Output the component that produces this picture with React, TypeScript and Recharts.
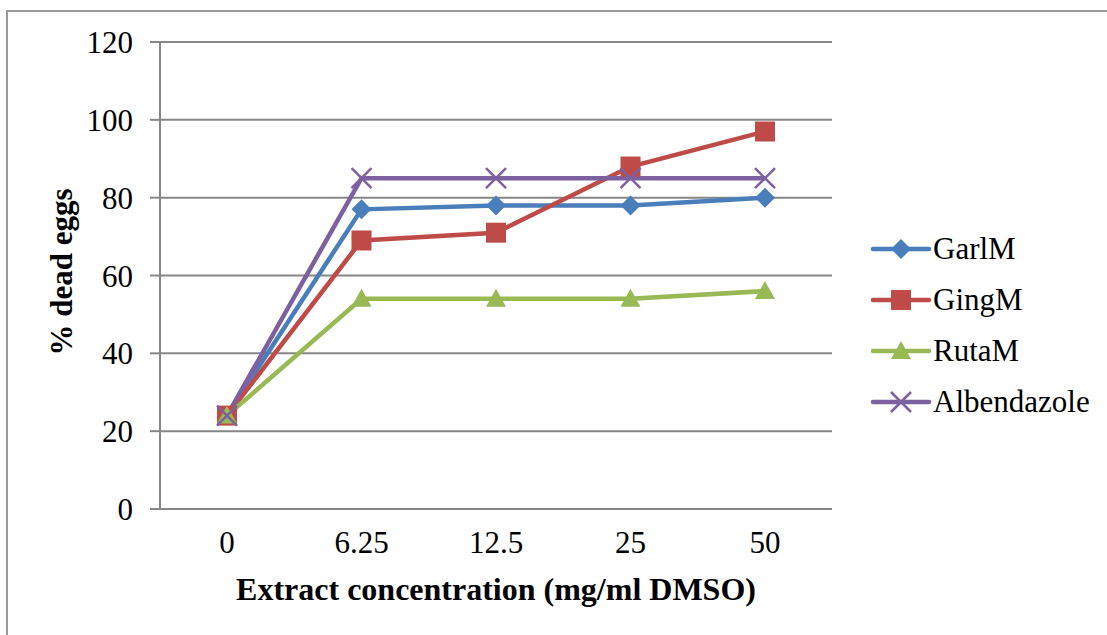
import React from 'react';
import { LineChart, Line, XAxis, YAxis, CartesianGrid } from 'recharts';

const concentrations = ['0', '6.25', '12.5', '25', '50'];
const garlM = [24, 77, 78, 78, 80];
const gingM = [24, 69, 71, 88, 97];
const rutaM = [24, 54, 54, 54, 56];
const albendazole = [24, 85, 85, 85, 85];
const yTicks = [0, 20, 40, 60, 80, 100, 120];

const data = concentrations.map((c, i) => ({
  conc: c,
  GarlM: garlM[i],
  GingM: gingM[i],
  RutaM: rutaM[i],
  Albendazole: albendazole[i],
}));

const FONT = '"Liberation Serif", "Times New Roman", serif';
const GRID = '#868686';

const colors: Record<string, string> = {
  GarlM: '#4A7EBB',
  GingM: '#BE4B48',
  RutaM: '#98B954',
  Albendazole: '#7D60A0',
};

// excel-style markers, ~20px
const Marker = ({ name, cx, cy }: { name: string; cx: number; cy: number }) => {
  const c = colors[name];
  if (name === 'GarlM') {
    return <polygon points={`${cx},${cy - 10} ${cx + 10},${cy} ${cx},${cy + 10} ${cx - 10},${cy}`} fill={c} />;
  }
  if (name === 'GingM') {
    return <rect x={cx - 10} y={cy - 10} width={20} height={20} fill={c} />;
  }
  if (name === 'RutaM') {
    return <polygon points={`${cx},${cy - 10} ${cx + 10},${cy + 8} ${cx - 10},${cy + 8}`} fill={c} />;
  }
  return (
    <g stroke={c} strokeWidth={2.5}>
      <line x1={cx - 10} y1={cy - 10} x2={cx + 10} y2={cy + 10} />
      <line x1={cx - 10} y1={cy + 10} x2={cx + 10} y2={cy - 10} />
    </g>
  );
};

const makeDot = (name: string) => (props: any) => {
  const { cx, cy, index } = props;
  if (cx == null || cy == null) return <g key={index} />;
  return <Marker key={index} name={name} cx={cx} cy={cy} />;
};

const series = ['GarlM', 'GingM', 'RutaM', 'Albendazole'];

const LegendBox = () => (
  <div style={{ position: 'absolute', left: 870, top: 223, fontFamily: FONT, fontSize: 31, color: '#000' }}>
    {series.map((s) => (
      <div key={s} style={{ display: 'flex', alignItems: 'center', height: 51 }}>
        <svg width={62} height={26} style={{ marginRight: 1 }}>
          <line x1={3} y1={13} x2={59} y2={13} stroke={colors[s]} strokeWidth={4.5} strokeLinecap="round" />
          <Marker name={s} cx={31} cy={13} />
        </svg>
        <span>{s}</span>
      </div>
    ))}
  </div>
);

const App = () => {
  return (
    <div style={{ position: 'absolute', left: 0, top: 0, width: 1107, height: 635, background: '#fff', overflow: 'hidden' }}>
      <div
        style={{
          position: 'absolute',
          left: 6,
          top: 10,
          width: 1200,
          height: 800,
          borderLeft: '2px solid #9a9a9a',
          borderTop: '2px solid #9a9a9a',
        }}
      />
      <LineChart
        width={1107}
        height={635}
        data={data}
        margin={{ top: 42, right: 275, left: 0, bottom: 0 }}
        style={{ position: 'absolute', left: 0, top: 0 }}
      >
        <CartesianGrid vertical={false} stroke={GRID} strokeWidth={2} />
        <XAxis
          dataKey="conc"
          height={126}
          padding={{ left: 67, right: 67 }}
          axisLine={{ stroke: GRID, strokeWidth: 2 }}
          tickLine={false}
          tickSize={0}
          tickMargin={22}
          tick={{ fontFamily: FONT, fontSize: 31, fill: '#000' }}
        />
        <YAxis
          width={160}
          domain={[0, 120]}
          ticks={yTicks}
          interval={0}
          axisLine={{ stroke: GRID, strokeWidth: 2 }}
          tickLine={{ stroke: GRID, strokeWidth: 2 }}
          tickSize={10}
          tickMargin={17}
          tick={{ fontFamily: FONT, fontSize: 31, fill: '#000' }}
        />
        {series.map((s) => (
          <Line
            key={s}
            type="linear"
            dataKey={s}
            stroke={colors[s]}
            strokeWidth={4.5}
            dot={makeDot(s)}
            activeDot={false}
            isAnimationActive={false}
          />
        ))}
      </LineChart>
      <LegendBox />
      <div
        style={{
          position: 'absolute',
          left: 496,
          top: 589,
          transform: 'translate(-50%, -50%)',
          whiteSpace: 'nowrap',
          fontFamily: FONT,
          fontWeight: 'bold',
          fontSize: 32,
        }}
      >
        Extract concentration (mg/ml DMSO)
      </div>
      <div
        style={{
          position: 'absolute',
          left: 62,
          top: 272,
          transform: 'translate(-50%, -50%) rotate(-90deg)',
          whiteSpace: 'nowrap',
          fontFamily: FONT,
          fontWeight: 'bold',
          fontSize: 31,
        }}
      >
        % dead eggs
      </div>
    </div>
  );
};

export default App;
